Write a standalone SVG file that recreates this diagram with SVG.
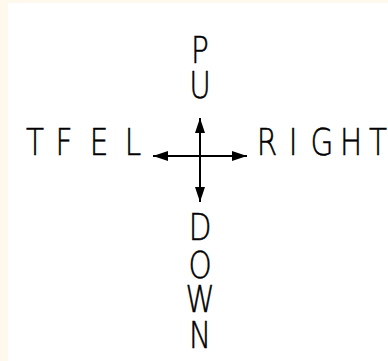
<svg xmlns="http://www.w3.org/2000/svg" width="388" height="361" viewBox="0 0 388 361">
<style>
.t{font-family:"DejaVu Sans","Liberation Sans",sans-serif;font-weight:200;font-size:36px;fill:#000;stroke:#000;stroke-width:0.5;text-anchor:middle}
.c{stroke:#000;stroke-width:2;fill:none}
</style>
<defs>
<marker id="ah" viewBox="0 0 15 10" refX="15" refY="5" markerWidth="15" markerHeight="10" markerUnits="userSpaceOnUse" orient="auto-start-reverse">
<path d="M0,0 L15,5 L0,10 Z" fill="#000"/>
</marker>
</defs>
<rect width="388" height="361" fill="#FFF8EC"/>
<rect x="8" y="3" width="380" height="358" fill="#FFFFFF"/>
<g id="connectors">
<line class="c" x1="200" y1="156" x2="200" y2="118" marker-end="url(#ah)"/>
<line class="c" x1="200" y1="156" x2="200" y2="202" marker-end="url(#ah)"/>
<line class="c" x1="200" y1="156" x2="153" y2="156" marker-end="url(#ah)"/>
<line class="c" x1="200" y1="156" x2="247" y2="156" marker-end="url(#ah)"/>
</g>
<g id="up">
<text class="t" transform="translate(200,63) scale(0.82,1.05)">P</text>
<text class="t" transform="translate(200,98) scale(0.82,1.05)">U</text>
</g>
<g id="down">
<text class="t" transform="translate(200,240) scale(0.82,1.05)">D</text>
<text class="t" transform="translate(200,278) scale(0.82,1.05)">O</text>
<text class="t" transform="translate(200,312) scale(0.82,1.05)">W</text>
<text class="t" transform="translate(200,348) scale(0.82,1.05)">N</text>
</g>
<g id="left">
<text class="t" transform="translate(35,155) scale(0.82,1.05)">T</text>
<text class="t" transform="translate(64,155) scale(0.82,1.05)">F</text>
<text class="t" transform="translate(99,155) scale(0.82,1.05)">E</text>
<text class="t" transform="translate(133,155) scale(0.82,1.05)">L</text>
</g>
<g id="right">
<text class="t" transform="translate(267,155) scale(0.82,1.05)">R</text>
<text class="t" transform="translate(293,155) scale(0.82,1.05)">I</text>
<text class="t" transform="translate(322,155) scale(0.82,1.05)">G</text>
<text class="t" transform="translate(351,155) scale(0.82,1.05)">H</text>
<text class="t" transform="translate(378,155) scale(0.82,1.05)">T</text>
</g>
</svg>
